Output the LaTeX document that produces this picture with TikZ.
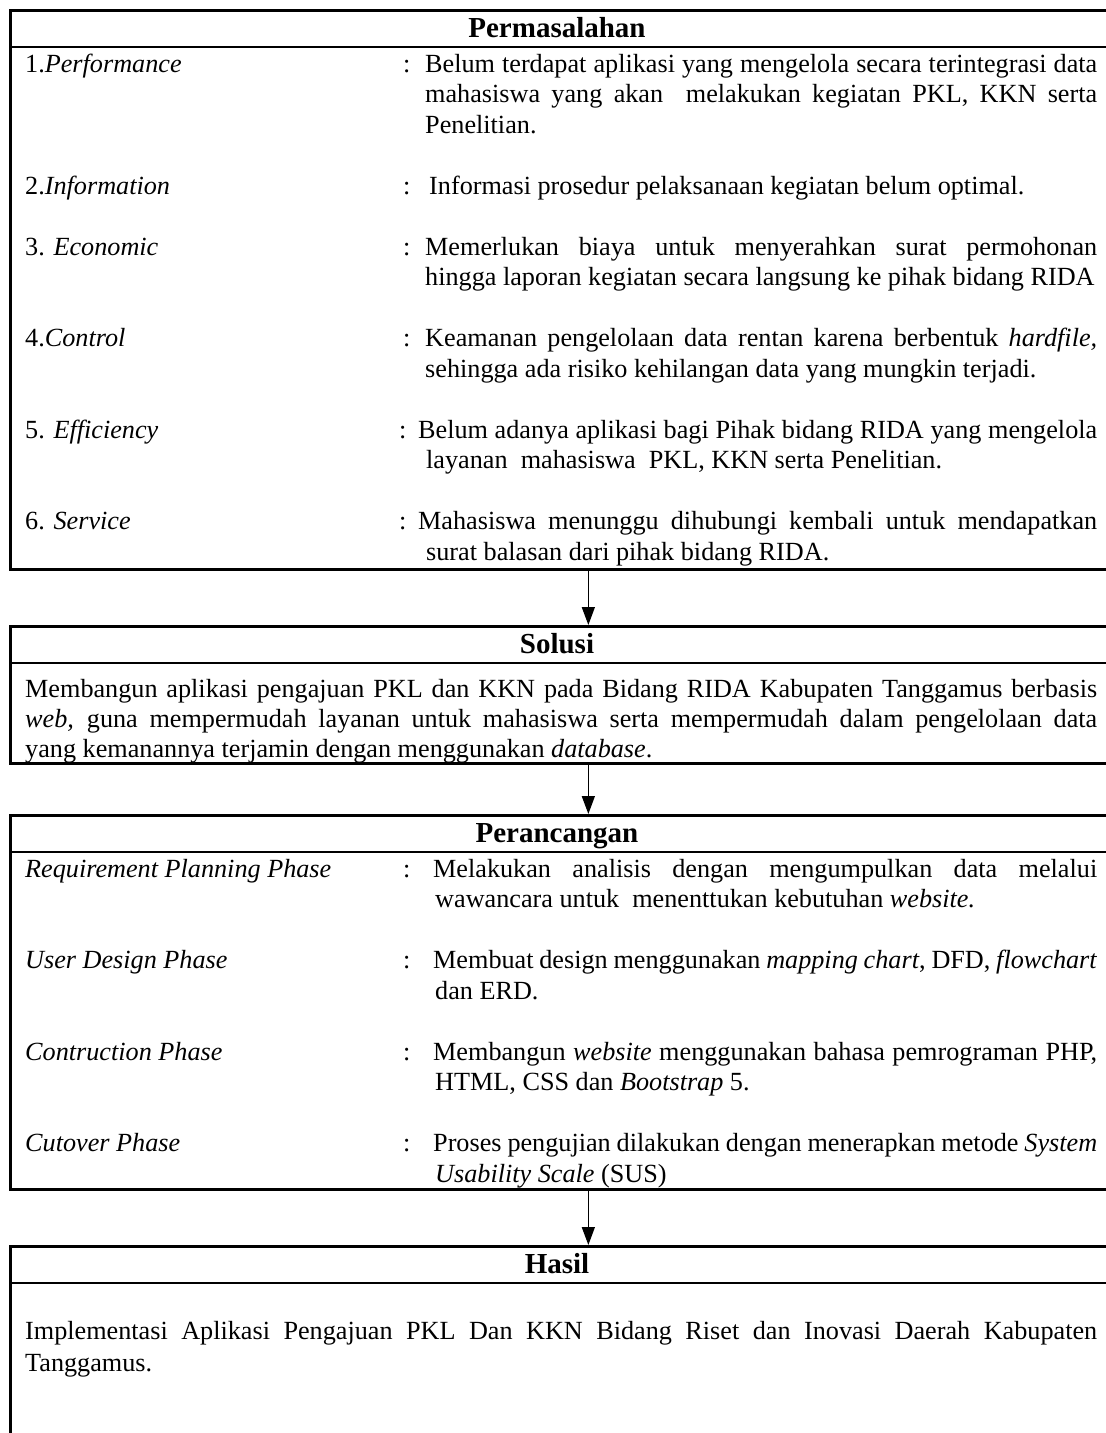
\documentclass[tikz,border=0pt]{standalone}
\usepackage{fontspec}
\setmainfont{Liberation Serif}
\usetikzlibrary{arrows.meta}
% a justified line of given width
\newcommand{\jl}[2]{\makebox[#1][s]{#2}}

\begin{document}
\begin{tikzpicture}[x=1pt,y=-1pt,
  frame/.style={draw, line width=2.7pt, rectangle, inner sep=0pt, anchor=north west},
  rule/.style={line width=2.7pt},
  flow/.style={line width=1.4pt, -{Triangle[length=18pt,width=13pt]}},
  t/.style={anchor=base west, inner sep=0pt, font=\fontsize{26.2}{30}\selectfont},
  ttl/.style={anchor=base, inner sep=0pt, font=\bfseries\fontsize{29}{30}\selectfont}]
\useasboundingbox (0,0) rectangle (1106,1433);
\clip (0,0) rectangle (1106,1433);

% ---------- frames (open to the right and bottom edge of the page) ----------
\node[frame, minimum width=1156pt, minimum height=559pt] (perm) at (9,9) {};
\node[frame, minimum width=1156pt, minimum height=137pt] (sol) at (9,625) {};
\node[frame, minimum width=1156pt, minimum height=374pt] (ranc) at (9,814) {};
\node[frame, minimum width=1156pt, minimum height=300pt] (hasil) at (9,1245) {};

% header rules
\draw[rule] (9,47) -- (1165,47);
\draw[rule] (9,663) -- (1165,663);
\draw[rule] (9,852) -- (1165,852);
\draw[rule] (9,1283) -- (1165,1283);

% titles
\node[ttl] (tperm) at (557,37.5) {Permasalahan};
\node[ttl] (tsol) at (557,653.5) {Solusi};
\node[ttl] (tranc) at (557,842.5) {Perancangan};
\node[ttl] (thasil) at (557,1273.5) {Hasil};

% connectors
\draw[flow] (perm.south) -- (sol.north);
\draw[flow] (sol.south) -- (ranc.north);
\draw[flow] (ranc.south) -- (hasil.north);

% ---------- Permasalahan ----------
\node[t] (l1) at (25,72) {1.\textit{Performance}};
\node[t] (c1) at (403,72) {:};
\node[t] (d1a) at (425,72) {\jl{672pt}{Belum terdapat aplikasi yang mengelola secara terintegrasi data}};
\node[t] (d1b) at (425,102.5) {\jl{672pt}{mahasiswa yang akan \ melakukan kegiatan PKL, KKN serta}};
\node[t] (d1c) at (425,133) {Penelitian.};

\node[t] (l2) at (25,194) {2.\textit{Information}};
\node[t] (c2) at (403,194) {:};
\node[t] (d2a) at (429,194) {Informasi prosedur pelaksanaan kegiatan belum optimal.};

\node[t] (l3) at (25,255) {3. \textit{Economic}};
\node[t] (c3) at (403,255) {:};
\node[t] (d3a) at (425,255) {\jl{672pt}{Memerlukan biaya untuk menyerahkan surat permohonan}};
\node[t] (d3b) at (425,285.5) {hingga laporan kegiatan secara langsung ke pihak bidang RIDA};

\node[t] (l4) at (25,346.5) {4.\textit{Control}};
\node[t] (c4) at (403,346.5) {:};
\node[t] (d4a) at (425,346.5) {\jl{672pt}{Keamanan pengelolaan data rentan karena berbentuk \textit{hardfile,}}};
\node[t] (d4b) at (425,377) {sehingga ada risiko kehilangan data yang mungkin terjadi.};

\node[t] (l5) at (25,438) {5. \textit{Efficiency}};
\node[t] (c5) at (399,438) {:};
\node[t] (d5a) at (418,438) {\jl{679pt}{Belum adanya aplikasi bagi Pihak bidang RIDA yang mengelola}};
\node[t] (d5b) at (426,468.5) {layanan \ mahasiswa \ PKL, KKN serta Penelitian.};

\node[t] (l6) at (25,529.5) {6. \textit{Service}};
\node[t] (c6) at (399,529.5) {:};
\node[t] (d6a) at (418,529.5) {\jl{679pt}{Mahasiswa menunggu dihubungi kembali untuk mendapatkan}};
\node[t] (d6b) at (426,560) {surat balasan dari pihak bidang RIDA.};

% ---------- Solusi ----------
\node[t] (s1) at (25,697) {\jl{1072pt}{Membangun aplikasi pengajuan PKL dan KKN pada Bidang RIDA Kabupaten Tanggamus berbasis}};
\node[t] (s2) at (25,727.5) {\jl{1072pt}{\textit{web,} guna mempermudah layanan untuk mahasiswa serta mempermudah dalam pengelolaan data}};
\node[t] (s3) at (25,757) {yang kemanannya terjamin dengan menggunakan \textit{database}.};

% ---------- Perancangan ----------
\node[t] (r1) at (25,877) {\textit{Requirement Planning Phase}};
\node[t] (rc1) at (403,877) {:};
\node[t] (rd1a) at (433,877) {\jl{664pt}{Melakukan analisis dengan mengumpulkan data melalui}};
\node[t] (rd1b) at (435,907.5) {wawancara untuk \ menenttukan kebutuhan \textit{website.}};

\node[t] (r2) at (25,968.5) {\textit{User Design Phase}};
\node[t] (rc2) at (403,968.5) {:};
\node[t] (rd2a) at (433,968.5) {\jl{664pt}{Membuat design menggunakan \textit{mapping chart}, DFD, \textit{flowchart}}};
\node[t] (rd2b) at (435,999) {dan ERD.};

\node[t] (r3) at (25,1060) {\textit{Contruction Phase}};
\node[t] (rc3) at (403,1060) {:};
\node[t] (rd3a) at (433,1060) {\jl{664pt}{Membangun \textit{website} menggunakan bahasa pemrograman PHP,}};
\node[t] (rd3b) at (435,1090.5) {HTML, CSS dan \textit{Bootstrap} 5.};

\node[t] (r4) at (25,1151.5) {\textit{Cutover Phase}};
\node[t] (rc4) at (403,1151.5) {:};
\node[t] (rd4a) at (433,1151.5) {\jl{664pt}{Proses pengujian dilakukan dengan menerapkan metode \textit{System}}};
\node[t] (rd4b) at (435,1182) {\textit{Usability Scale} (SUS)};

% ---------- Hasil ----------
\node[t] (h1) at (25,1339) {\jl{1072pt}{Implementasi Aplikasi Pengajuan PKL Dan KKN Bidang Riset dan Inovasi Daerah Kabupaten}};
\node[t] (h2) at (25,1371) {Tanggamus.};
\end{tikzpicture}
\end{document}
